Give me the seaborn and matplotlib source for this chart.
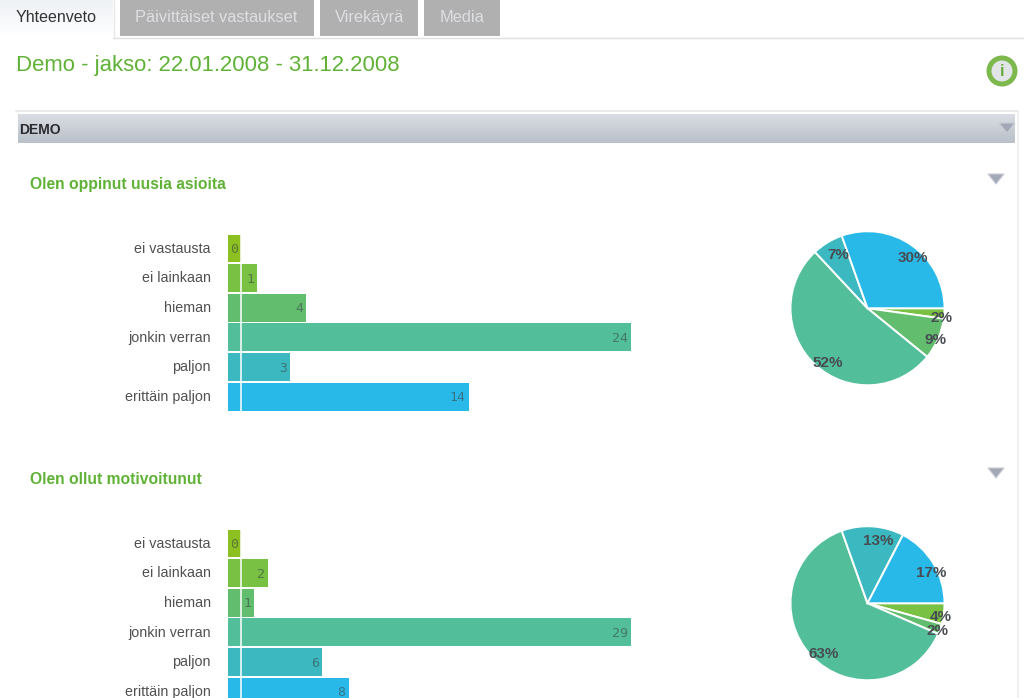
"""Yhteenveto page: answer counts per question as bars and pies."""

import numpy as np
import pandas as pd
import seaborn as sns
import matplotlib.pyplot as plt
from matplotlib.colors import to_rgb
from matplotlib.patches import Circle, Polygon, Rectangle
from matplotlib.transforms import ScaledTranslation

answers = ["ei vastausta", "ei lainkaan", "hieman", "jonkin verran", "paljon", "erittäin paljon"]
colors = ["#8cc021", "#78c143", "#63bd6e", "#52bf9a", "#3cb8c0", "#29b9e9"]
tabs = ["Yhteenveto", "Päivittäiset vastaukset", "Virekäyrä", "Media"]
page_title = "Demo - jakso: 22.01.2008 - 31.12.2008"
panel_title = "DEMO"
q1_title = "Olen oppinut uusia asioita"
q1_counts = [0, 1, 4, 24, 3, 14]
q2_title = "Olen ollut motivoitunut"
q2_counts = [0, 2, 1, 29, 6, 8]

W, H = 1024, 698
GREEN = "#5fb236"

sns.set_theme(style="white")
plt.rcParams["font.family"] = ["Liberation Sans", "DejaVu Sans"]

fig = plt.figure(figsize=(W / 100, H / 100), dpi=100, facecolor="white")


def px_axes(left, top, right, bottom, **kw):
    """Axes placed with page pixel coordinates."""
    return fig.add_axes(
        [left / W, 1 - bottom / H, (right - left) / W, (bottom - top) / H], **kw
    )


# page chrome
bg = px_axes(0, 0, W, H)
bg.set_xlim(0, W)
bg.set_ylim(H, 0)
bg.axis("off")


def gradient(x0, x1, y0, y1, c0, c1):
    c = np.linspace(np.array(to_rgb(c0)), np.array(to_rgb(c1)), 32)
    bg.imshow(c[:, None, :], extent=(x0, x1, y1, y0), aspect="auto", zorder=1)


gradient(0, 113, 0, 36, "#eef1f5", "#ffffff")
for x0, x1 in [(120, 314), (320, 418), (424, 500)]:
    bg.add_patch(Rectangle((x0, 0), x1 - x0, 36, color="#b0b0b0", lw=0, zorder=2))
bg.plot([113, W], [37.5, 37.5], color="#e0e0e0", lw=1, zorder=2)
bg.plot([114, 114], [0, 37], color="#e8e8e8", lw=1, zorder=2)

bg.text(16, 17.5, tabs[0], fontsize=11.5, color="#333333", va="center", zorder=3)
bg.text(135, 17.5, tabs[1], fontsize=11.8, color="#dddfe3", va="center", zorder=3)
bg.text(335, 17.5, tabs[2], fontsize=11.8, color="#dddfe3", va="center", zorder=3)
bg.text(440, 17.5, tabs[3], fontsize=11.8, color="#dddfe3", va="center", zorder=3)

bg.text(16, 66, page_title, fontsize=15.9, color=GREEN, va="center", zorder=3)

# info icon
bg.add_patch(Circle((1002, 71), 15.5, color="#7db84c", lw=0, zorder=2))
bg.add_patch(Circle((1002, 71), 10.5, color="#e2e5e8", lw=0, zorder=3))
bg.text(1002, 71, "i", fontsize=12, fontweight="bold", color="#6aaa3c", ha="center", va="center", zorder=4)

# panel
bg.plot([16, 1018], [111, 111], color="#e6e6e6", lw=1.2, zorder=2)
bg.plot([1017.5, 1017.5], [111, H], color="#ececec", lw=1.2, zorder=2)
gradient(18, 1015, 114, 143, "#dadee3", "#bac0c9")
bg.text(19, 130, panel_title, fontsize=10, fontweight="bold", color="#2a2a2e", va="center", zorder=3)

for cx, cy in [(1007, 128), (996, 179), (996, 473)]:
    bg.add_patch(
        Polygon(
            [(cx - 8, cy - 5), (cx + 8, cy - 5), (cx, cy + 5)],
            facecolor="#a3a8b6", edgecolor="#c8ccd4", lw=0.8, zorder=4,
        )
    )


def draw_question(title, counts, offset):
    bg.text(30, 184.6 + offset, title, fontsize=11.25, fontweight="bold", color=GREEN, va="center", zorder=3)

    df = pd.DataFrame({"answer": answers, "count": counts})

    # bars, with a short stub left of the zero line
    ax = px_axes(228, 233.7 + offset, 631, 411.5 + offset, facecolor="none")
    sns.barplot(
        data=df, x="count", y="answer", hue="answer", palette=colors,
        legend=False, width=0.94, linewidth=0, saturation=1, ax=ax,
    )
    stub = max(counts) * 13 / 390
    for bar in ax.patches:
        bar.set_width(bar.get_width() + stub)
        bar.set_x(-stub)
    ax.axvline(0, color="white", lw=1.1, zorder=5)
    ax.set_xlim(-stub, max(counts))
    ax.set_xlabel("")
    ax.set_ylabel("")
    ax.set_xticks([])
    ax.tick_params(axis="y", length=0, pad=12.4, labelsize=10.3, labelcolor="#505050")
    nudge = ScaledTranslation(0, 1.2 / 100, fig.dpi_scale_trans)
    for label in ax.get_yticklabels():
        label.set_transform(label.get_transform() + nudge)
    sns.despine(ax=ax, left=True, bottom=True)
    for i, v in enumerate(counts):
        ax.annotate(
            str(v), (v, i), xytext=(-2.2, -0.7), textcoords="offset points", ha="right",
            va="center", fontsize=9.5, family="DejaVu Sans Mono", color="#3a4a46",
            alpha=0.6, zorder=6,
        )

    # pie
    pie_ax = px_axes(790.5, 231 + offset, 944.5, 385.5 + offset)
    kept = [(c, col) for c, col in zip(counts, colors) if c > 0]
    _, _, pct = pie_ax.pie(
        [k[0] for k in kept], colors=[k[1] for k in kept], counterclock=False,
        startangle=0, radius=1, autopct="%.0f%%", pctdistance=0.88,
        wedgeprops={"edgecolor": "white", "linewidth": 1.4},
    )
    for t in pct:
        x, y = t.get_position()
        t.set_position((x + 6 / 77, y - 5 / 77))
        t.set(fontsize=11, fontweight="bold", color="#474c52")
    pie_ax.set_xlim(-1, 1)
    pie_ax.set_ylim(-1, 1)


draw_question(q1_title, q1_counts, 0)
draw_question(q2_title, q2_counts, 295)

fig.savefig("out.png", dpi=100)
